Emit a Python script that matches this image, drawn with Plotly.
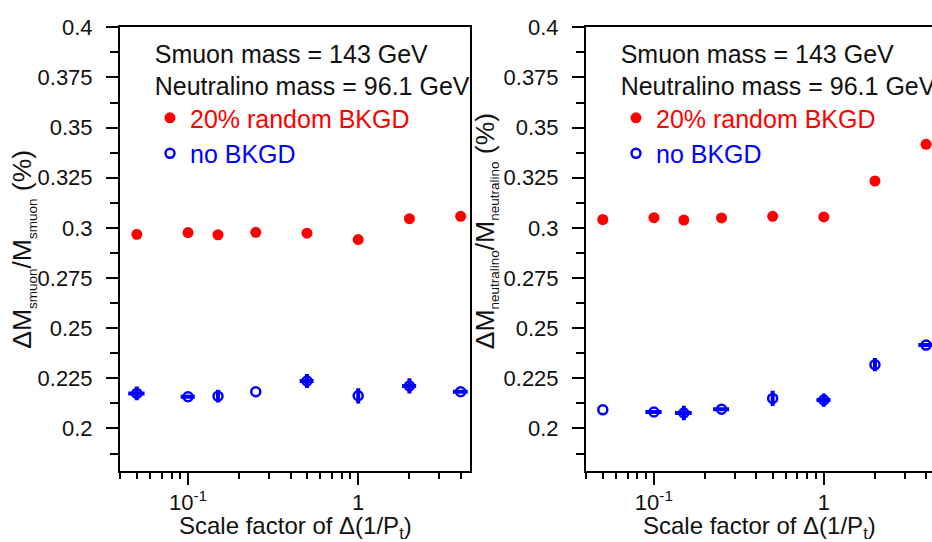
import plotly.graph_objects as go

# Scale factor applied to the momentum resolution Delta(1/Pt)
scale_factor = [0.05, 0.1, 0.15, 0.25, 0.5, 1, 2, 4]

# Relative smuon mass error (%)
smuon_bkgd = [0.2968, 0.2977, 0.2966, 0.2978, 0.2974, 0.2942, 0.3046, 0.3058]
smuon_nobkgd = [0.2175, 0.2158, 0.2161, 0.2183, 0.2237, 0.2163, 0.2212, 0.2183]
smuon_nobkgd_err_y = [0.0034, 0.0, 0.0032, 0.0, 0.0035, 0.0038, 0.0038, 0.0]
smuon_nobkgd_err_x = [0.0055, 0.0095, 0.0, 0.0, 0.047, 0.0, 0.19, 0.4]

# Relative neutralino mass error (%)
neut_bkgd = [0.3042, 0.3051, 0.3039, 0.3050, 0.3058, 0.3055, 0.3234, 0.3417]
neut_nobkgd = [0.2093, 0.2082, 0.2077, 0.2096, 0.2150, 0.2142, 0.2318, 0.2416]
neut_nobkgd_err_y = [0.0, 0.0, 0.0036, 0.0, 0.0038, 0.0033, 0.0033, 0.0]
neut_nobkgd_err_x = [0.0, 0.011, 0.017, 0.027, 0.0, 0.095, 0.0, 0.4]

x_major_ticks = [0.1, 1]
x_major_labels = ["10<sup>-1</sup>", "1"]
x_minor_ticks = [0.04, 0.05, 0.06, 0.07, 0.08, 0.09,
                 0.2, 0.3, 0.4, 0.5, 0.6, 0.7, 0.8, 0.9, 2, 3, 4]

header_lines = ["Smuon mass = 143 GeV", "Neutralino mass = 96.1 GeV"]
header_y = [0.3855, 0.3695]
header_x = [0.0637, 0.0637]

RED = "#ff0000"
BLUE = "#0000ff"
FONT = "Liberation Sans, Arial, sans-serif"

W, H = 932, 542
Y_DOM = [1 - 469 / H, 1 - 15.7 / H]
X_DOM1 = [120 / W, 470 / W]
X_DOM2 = [586 / W, 1.0]

fig = go.Figure()


def add_panel(xa, ya, legend, bkgd, nobkgd, ey, ex):
    fig.add_trace(go.Scatter(
        x=scale_factor, y=bkgd, xaxis=xa, yaxis=ya, mode="markers",
        marker=dict(symbol="circle", size=11, color=RED),
        name=f"<span style='color:{RED}'>20% random BKGD</span>",
        legend=legend, legendgroup=legend + "a", hoverinfo="x+y",
    ))
    fig.add_trace(go.Scatter(
        x=scale_factor, y=nobkgd, xaxis=xa, yaxis=ya, mode="markers",
        marker=dict(symbol="circle-open", size=9, color=BLUE,
                    line=dict(width=2.5, color=BLUE)),
        error_y=dict(type="data", array=ey, visible=True, thickness=4,
                     width=0, color=BLUE),
        error_x=dict(type="data", array=ex, visible=True, thickness=4,
                     width=0, color=BLUE),
        name=f"<span style='color:{BLUE}'>no BKGD</span>",
        legend=legend, legendgroup=legend + "b", hoverinfo="x+y",
    ))
    fig.add_trace(go.Scatter(
        x=header_x, y=header_y, xaxis=xa, yaxis=ya, mode="text",
        text=header_lines, textposition="middle right", cliponaxis=True,
        textfont=dict(family=FONT, size=25, color="#111111"),
        showlegend=False, hoverinfo="skip",
    ))


add_panel("x", "y", "legend", smuon_bkgd, smuon_nobkgd,
          smuon_nobkgd_err_y, smuon_nobkgd_err_x)
add_panel("x2", "y2", "legend2", neut_bkgd, neut_nobkgd,
          neut_nobkgd_err_y, neut_nobkgd_err_x)

xaxis_common = dict(
    type="log", range=[-1.4, 0.657], tickmode="array",
    tickvals=x_major_ticks, ticktext=x_major_labels,
    ticks="outside", ticklen=12, tickwidth=2, tickcolor="black",
    showline=True, linewidth=2, linecolor="black", mirror=True,
    showgrid=False, zeroline=False, ticklabelstandoff=-1,
    tickfont=dict(family=FONT, size=22, color="#111111"),
    minor=dict(tickmode="array", tickvals=x_minor_ticks, ticks="outside",
               ticklen=6, tickwidth=2, tickcolor="black", showgrid=False),
)
yaxis_common = dict(
    range=[0.179, 0.4], tick0=0.2, dtick=0.025,
    ticks="outside", ticklen=12, tickwidth=2, tickcolor="black",
    showline=True, linewidth=2, linecolor="black",
    showgrid=False, zeroline=False, ticklabelstandoff=9,
    tickfont=dict(family=FONT, size=22, color="#111111"),
    minor=dict(dtick=0.0125, tick0=0.2, ticks="outside", ticklen=8,
               tickwidth=2, tickcolor="black", showgrid=False),
)

legend_common = dict(
    font=dict(family=FONT, size=25), bgcolor="rgba(0,0,0,0)",
    xanchor="left", yanchor="top", tracegroupgap=0, itemwidth=30,
)

fig.update_layout(
    width=W, height=H, margin=dict(l=0, r=0, t=0, b=0),
    paper_bgcolor="white", plot_bgcolor="white",
    xaxis=dict(xaxis_common, domain=X_DOM1, anchor="y"),
    yaxis=dict(yaxis_common, domain=Y_DOM, anchor="x", mirror=True),
    xaxis2=dict(xaxis_common, domain=X_DOM2, anchor="y2",
                range=[-1.4, 0.637]),
    yaxis2=dict(yaxis_common, domain=Y_DOM, anchor="x2", mirror=False),
    legend=dict(legend_common, x=150 / W, y=1 - 85 / H),
    legend2=dict(legend_common, x=616 / W, y=1 - 85 / H),
    font=dict(family=FONT, color="#111111"),
)


def sub(s):
    return f"<sub><span style='font-size:13.5px'>{s}</span></sub>"


# axis titles
for cx, name in [(24 / W, "smuon"), (486 / W, "neutralino")]:
    txt = f"ΔM{sub(name)}/M{sub(name)} (%)"
    fig.add_annotation(text=txt, textangle=-90, xref="paper", yref="paper",
                       x=cx, y=1 - 347 / H, xanchor="center", yanchor="bottom",
                       showarrow=False, font=dict(family=FONT, size=26.5))

for cx in [sum(X_DOM1) / 2, (586 + 932) / 2 / W]:
    fig.add_annotation(text="Scale factor of Δ(1/P<sub>t</sub>)",
                       xref="paper", yref="paper", x=cx, y=1 - 527 / H,
                       xanchor="center", yanchor="middle", showarrow=False,
                       font=dict(family=FONT, size=24))

fig.write_html("out.html")
